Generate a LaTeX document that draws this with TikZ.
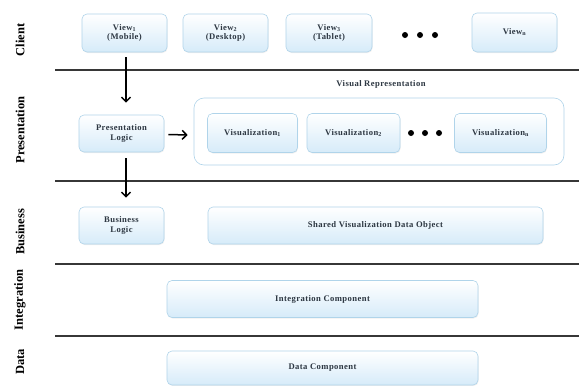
\documentclass[tikz,border=0pt]{standalone}
\usepackage{fontspec}
\setmainfont{Liberation Serif}
\usetikzlibrary{arrows.meta,shadows}
\definecolor{boxtxt}{RGB}{45,55,66}
\definecolor{boxedge}{RGB}{176,212,234}
\definecolor{boxbot}{RGB}{214,235,249}
\definecolor{sepline}{RGB}{55,55,55}
\newcommand{\bxfont}{\bfseries\fontsize{8.6}{9.8}\selectfont\addfontfeatures{LetterSpace=5}}
\begin{document}
\begin{tikzpicture}[x=1pt,y=-1pt,
  box/.style={draw=boxedge, line width=0.6pt, rounded corners=5pt,
    top color=white, bottom color=boxbot, align=center, inner sep=1pt,
    text=boxtxt, font=\bxfont,
    drop shadow={opacity=0.12, shadow xshift=0.6pt, shadow yshift=-1pt}},
  container/.style={draw=boxedge, line width=0.6pt, rounded corners=10pt, fill=white},
  sep/.style={draw=sepline, line width=2.4pt},
  side/.style={rotate=90, font=\bfseries\fontsize{12.5}{13}\selectfont, text=black},
  arr/.style={line width=1.5pt, -{Straight Barb[length=4.5pt,width=9pt,line width=1.5pt]}},
  dot/.style={circle, fill=black, inner sep=0pt, minimum size=6pt}]
\useasboundingbox[fill=white] (0,0) rectangle (579,386);

% separators
\coordinate (l1a) at (55,70);  \coordinate (l1b) at (579,70);
\coordinate (l2a) at (55,181); \coordinate (l2b) at (579,181);
\coordinate (l3a) at (55,264); \coordinate (l3b) at (579,264);
\coordinate (l4a) at (55,336); \coordinate (l4b) at (579,336);
\draw[sep] (l1a) -- (l1b);
\draw[sep] (l2a) -- (l2b);
\draw[sep] (l3a) -- (l3b);
\draw[sep] (l4a) -- (l4b);

% side labels
\node[side] (lc) at (20,40) {Client};
\node[side] (lp) at (20,130) {Presentation};
\node[side] (lb) at (20,232) {Business};
\node[side] (li) at (20,300) {Integration};
\node[side] (ld) at (20,362) {Data};

% client views
\node[box, minimum width=85pt, minimum height=38pt] (v1) at (124.5,33) {View\textsubscript{1}\\(Mobile)};
\node[box, minimum width=85pt, minimum height=38pt] (v2) at (225.5,33) {View\textsubscript{2}\\(Desktop)};
\node[box, minimum width=86pt, minimum height=38pt] (v3) at (329,33) {View\textsubscript{3}\\(Tablet)};
\node[dot] (d1) at (405,35) {};
\node[dot] (d2) at (420,35) {};
\node[dot] (d3) at (435,35) {};
\node[box, minimum width=85pt, minimum height=39pt] (vn) at (514.5,32.5) {View\textsubscript{n}};

% presentation
\node[box, minimum width=85pt, minimum height=37pt] (pl) at (121.5,133.5) {Presentation\\Logic};
\node[container, minimum width=370pt, minimum height=67pt] (vr) at (379,131.5) {};
\node[text=boxtxt, font=\bxfont] (vrt) at (381,84) {Visual Representation};
\node[box, minimum width=90pt, minimum height=39pt] (vis1) at (252.5,133) {Visualization\textsubscript{1}};
\node[box, minimum width=93pt, minimum height=39pt] (vis2) at (353.5,133) {Visualization\textsubscript{2}};
\node[dot] (e1) at (411,133) {};
\node[dot] (e2) at (425,133) {};
\node[dot] (e3) at (439,133) {};
\node[box, minimum width=92pt, minimum height=39pt] (visn) at (500.5,133) {Visualization\textsubscript{n}};

% business
\node[box, minimum width=85pt, minimum height=37pt] (bl) at (121.5,225.5) {Business\\Logic};
\node[box, minimum width=335pt, minimum height=37pt] (sv) at (375.5,225.5) {Shared Visualization Data Object};

% integration & data
\node[box, minimum width=311pt, minimum height=37pt] (ic) at (322.5,299) {Integration Component};
\node[box, minimum width=311pt, minimum height=34pt] (dc) at (322.5,368) {Data Component};

% arrows
\draw[arr] ([xshift=1.5pt,yshift=-5pt]v1.south) -- ([xshift=4.5pt,yshift=12pt]pl.north);
\draw[arr] ([xshift=4pt,yshift=-1pt]pl.east) -- ([xshift=-6pt,yshift=-3.5pt]vr.west);
\draw[arr] ([xshift=4.5pt,yshift=-6pt]pl.south) -- ([xshift=4.5pt,yshift=9pt]bl.north);
\end{tikzpicture}
\end{document}
